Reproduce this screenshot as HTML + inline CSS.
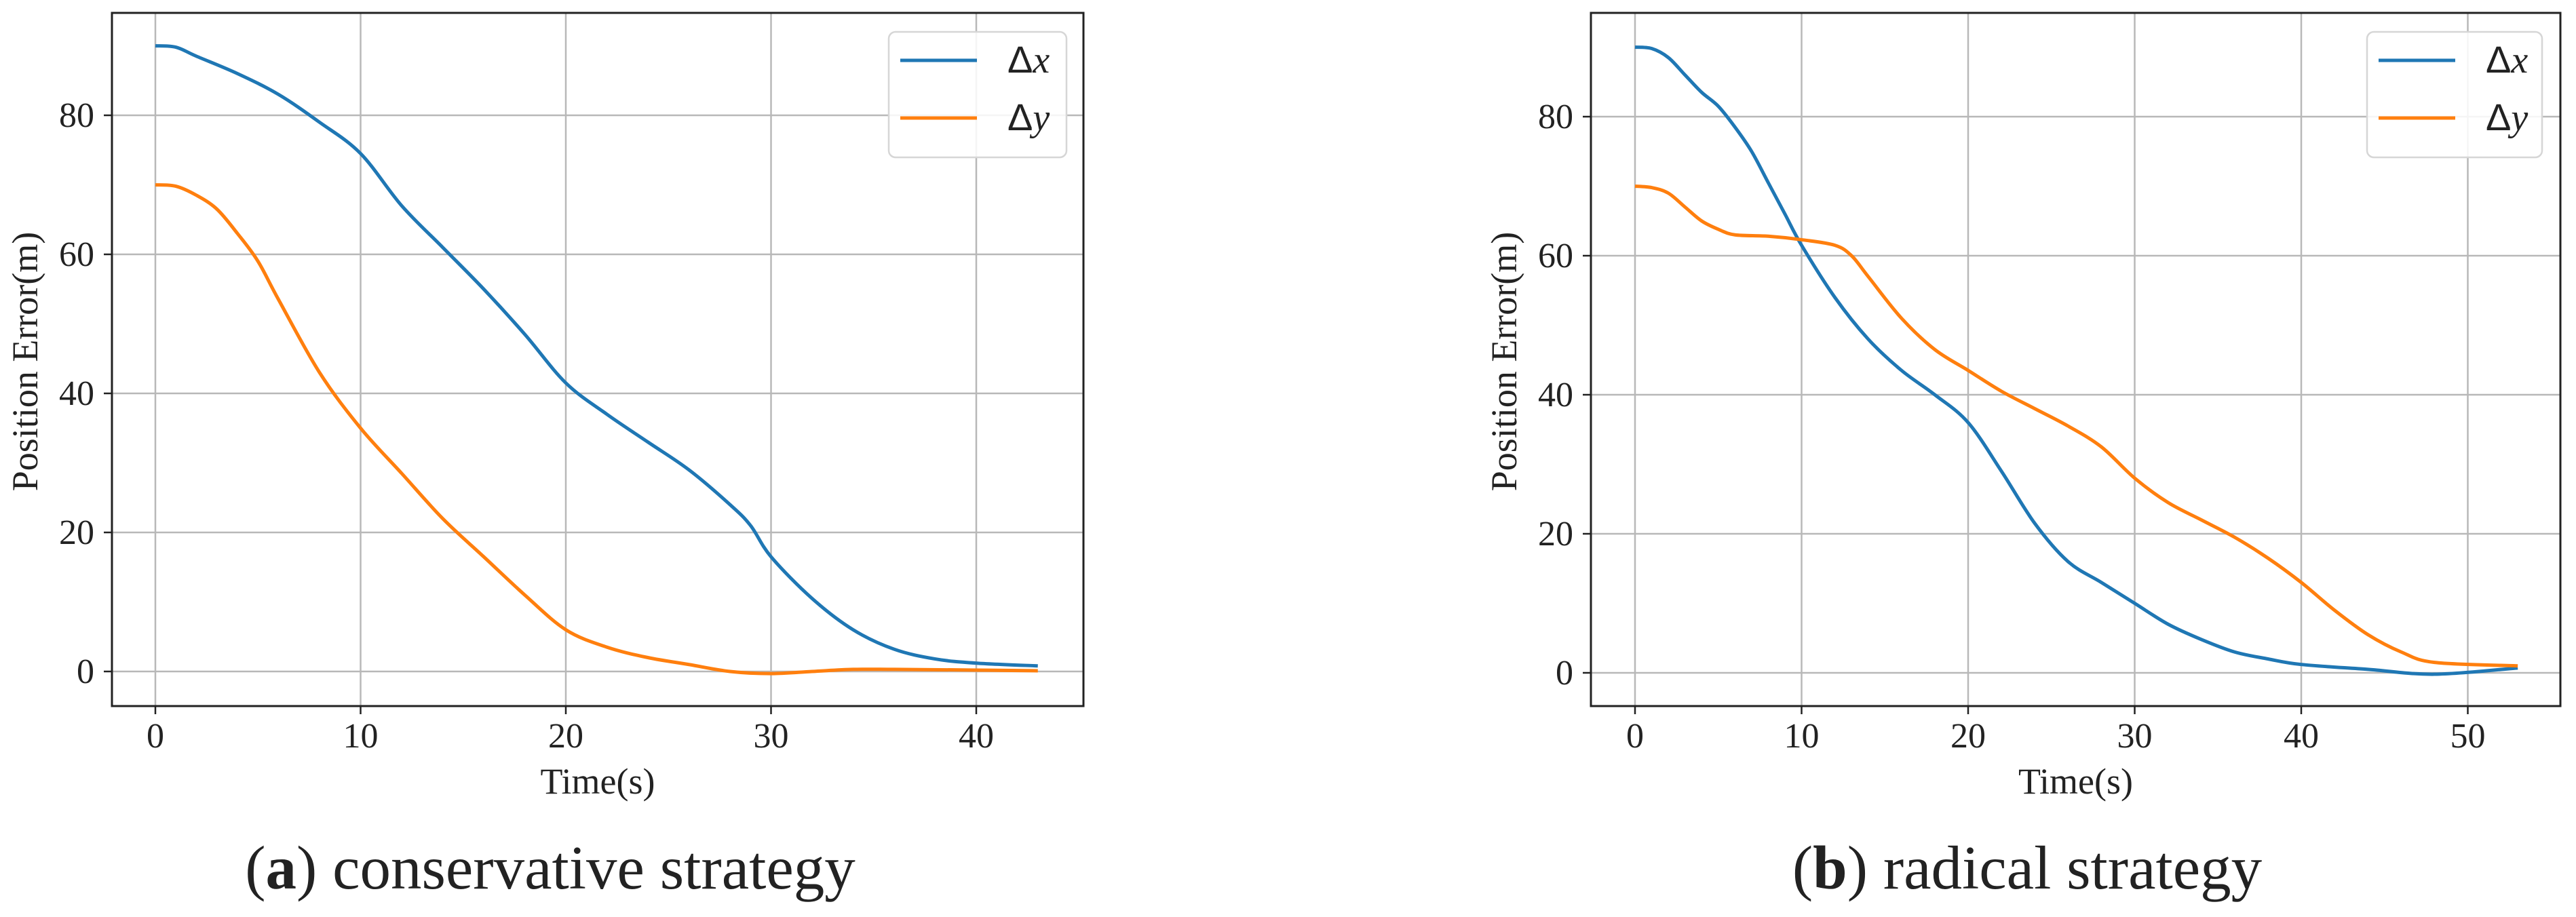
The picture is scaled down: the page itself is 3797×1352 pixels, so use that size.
<!DOCTYPE html>
<html><head><meta charset="utf-8">
<style>
html,body{margin:0;padding:0;background:#fff;}
svg text{font-family:"Liberation Serif",serif;fill:#222;}
</style></head>
<body>
<svg id="fig" width="3797" height="1347" viewBox="0 0 3797 1347" xmlns="http://www.w3.org/2000/svg"></svg>
<script>
// ---- data ----
const aTime = [0,1,2,4,6,8,10,12,14,16,18,20,22,24,26,28,29,30,32,34,36,38,40,43];
const aDx   = [90,89.8,88.5,86,83,79,74.5,67,61,55,48.5,41.5,37,33,29,24,21,16.5,10.5,6,3.2,1.8,1.2,0.8];
const aTimeY= [0,1,2,3,4,5,6,8,10,12,14,16,18,20,22,24,26,28,30,32,34,36,40,43];
const aDy   = [70,69.8,68.5,66.5,63,59,53.5,43,35,28.5,22,16.5,11,6,3.5,2,1,0,-0.3,0,0.3,0.3,0.2,0.1];
const bTime = [0,1,2,3,4,5,6,7,8,9,10,12,14,16,18,20,22,24,26,28,30,32,34,36,38,40,44,48,53];
const bDx   = [90,89.8,88.5,86,83.5,81.5,78.5,75,70.5,66,61.5,54,48,43.5,40,36,29,21.5,16,13,10,7,4.8,3,2,1.2,0.5,-0.2,0.7];
const bTimeY= [0,1,2,3,4,5,6,8,10,12,13,14,16,18,20,22,24,26,28,30,32,34,36,38,40,42,44,46,48,53];
const bDy   = [70,69.8,69,67,65,63.8,63,62.8,62.3,61.5,60,57,51,46.5,43.5,40.5,38,35.5,32.5,28,24.5,22,19.5,16.5,13,9,5.5,3,1.5,1];
const aXTicks = [0,10,20,30,40];
const bXTicks = [0,10,20,30,40,50];
const yTicks  = [0,20,40,60,80];

const NS="http://www.w3.org/2000/svg";
const svg=document.getElementById('fig');
function mk(tag,attrs,parent){const e=document.createElementNS(NS,tag);for(const k in attrs)e.setAttribute(k,attrs[k]);(parent||svg).appendChild(e);return e;}

function smoothPath(pts){
  let d=`M${pts[0][0]},${pts[0][1]}`;
  for(let i=0;i<pts.length-1;i++){
    const p0=pts[Math.max(0,i-1)],p1=pts[i],p2=pts[i+1],p3=pts[Math.min(pts.length-1,i+2)];
    const c1x=p1[0]+(p2[0]-p0[0])/6,c1y=p1[1]+(p2[1]-p0[1])/6;
    const c2x=p2[0]-(p3[0]-p1[0])/6,c2y=p2[1]-(p3[1]-p1[1])/6;
    d+=` C${c1x},${c1y} ${c2x},${c2y} ${p2[0]},${p2[1]}`;
  }
  return d;
}

function panel(cfg){
  const g=mk('g',{});
  
  
  const X=v=>cfg.x0+(v)*cfg.xs, Y=v=>cfg.y0-(v)*cfg.ys;
  cfg.xt.forEach(t=>{const l=mk('line',{x1:X(t),x2:X(t),y1:cfg.top,y2:cfg.bot,stroke:'#b8b8b8','stroke-width':2.5},g);
    
    mk('line',{x1:X(t),x2:X(t),y1:cfg.bot,y2:cfg.bot+12,stroke:'#222','stroke-width':2.5},g);
    const tx=mk('text',{x:X(t),y:1102,'font-size':52,'text-anchor':'middle'},g);tx.textContent=t;
    });
  yTicks.forEach(t=>{const l=mk('line',{x1:cfg.left,x2:cfg.right,y1:Y(t),y2:Y(t),stroke:'#b8b8b8','stroke-width':2.5},g);
    
    mk('line',{x1:cfg.left-12,x2:cfg.left,y1:Y(t),y2:Y(t),stroke:'#222','stroke-width':2.5},g);
    const tx=mk('text',{x:cfg.left-26,y:Y(t)+17,'font-size':52,'text-anchor':'end'},g);tx.textContent=t;
    });
  cfg.series.forEach(s=>{
    const pts=s.t.map((t,i)=>[X(t),Y(s.v[i])]);
    const p=mk('path',{d:smoothPath(pts),fill:'none',stroke:s.color,'stroke-width':5,'stroke-linejoin':'round'},g);
    
  });
  const fr=mk('rect',{x:cfg.left,y:cfg.top,width:cfg.right-cfg.left,height:cfg.bot-cfg.top,fill:'none',stroke:'#222','stroke-width':3},g);
  
  const lg=mk('g',{},g);
  mk('rect',{x:cfg.lx,y:47,width:cfg.lw,height:185,rx:10,fill:'#fff','fill-opacity':0.85,stroke:'#d6d6d6','stroke-width':2.5},lg);
  [['Δ','x','#1f77b4',89],['Δ','y','#ff7f0e',174]].forEach(([d,v,c,yy])=>{
    const e=mk('g',{},lg);
    mk('line',{x1:cfg.lx+17,x2:cfg.lx+130,y1:yy,y2:yy,stroke:c,'stroke-width':5},e);
    const t=mk('text',{x:cfg.lx+175,y:yy+18,'font-size':56},e);
    t.innerHTML=`<tspan font-family="Liberation Sans, sans-serif">${d}</tspan><tspan font-style="italic">${v}</tspan>`;
  });
  const xl=mk('text',{x:(cfg.left+cfg.right)/2,y:1170,'font-size':54,'text-anchor':'middle'},g);xl.textContent='Time(s)';
  
  const yl=mk('text',{x:0,y:0,'font-size':54,'text-anchor':'middle',transform:`translate(${cfg.left-110},533) rotate(-90)`},g);yl.textContent='Position Error(m)';
  
  const cp=mk('text',{x:cfg.cx,y:1310,'font-size':91,'text-anchor':'middle'},g);
  cp.innerHTML=`(<tspan font-weight="bold">${cfg.letter}</tspan>) ${cfg.caption}`;
  
}

panel({name:'chart-conservative',left:165,right:1597,top:19,bot:1041,x0:229,xs:30.25,y0:990,ys:10.25,xt:aXTicks,
  lx:1310,lw:262,cx:811,letter:'a',caption:'conservative strategy',
  series:[{name:'line-dx',t:aTime,v:aDx,color:'#1f77b4'},{name:'line-dy',t:aTimeY,v:aDy,color:'#ff7f0e'}]});
panel({name:'chart-radical',left:2345,right:3774,top:19,bot:1041,x0:2410,xs:24.55,y0:992,ys:10.25,xt:bXTicks,
  lx:3489,lw:258,cx:2988,letter:'b',caption:'radical strategy',
  series:[{name:'line-dx',t:bTime,v:bDx,color:'#1f77b4'},{name:'line-dy',t:bTimeY,v:bDy,color:'#ff7f0e'}]});
</script>
</body></html>
